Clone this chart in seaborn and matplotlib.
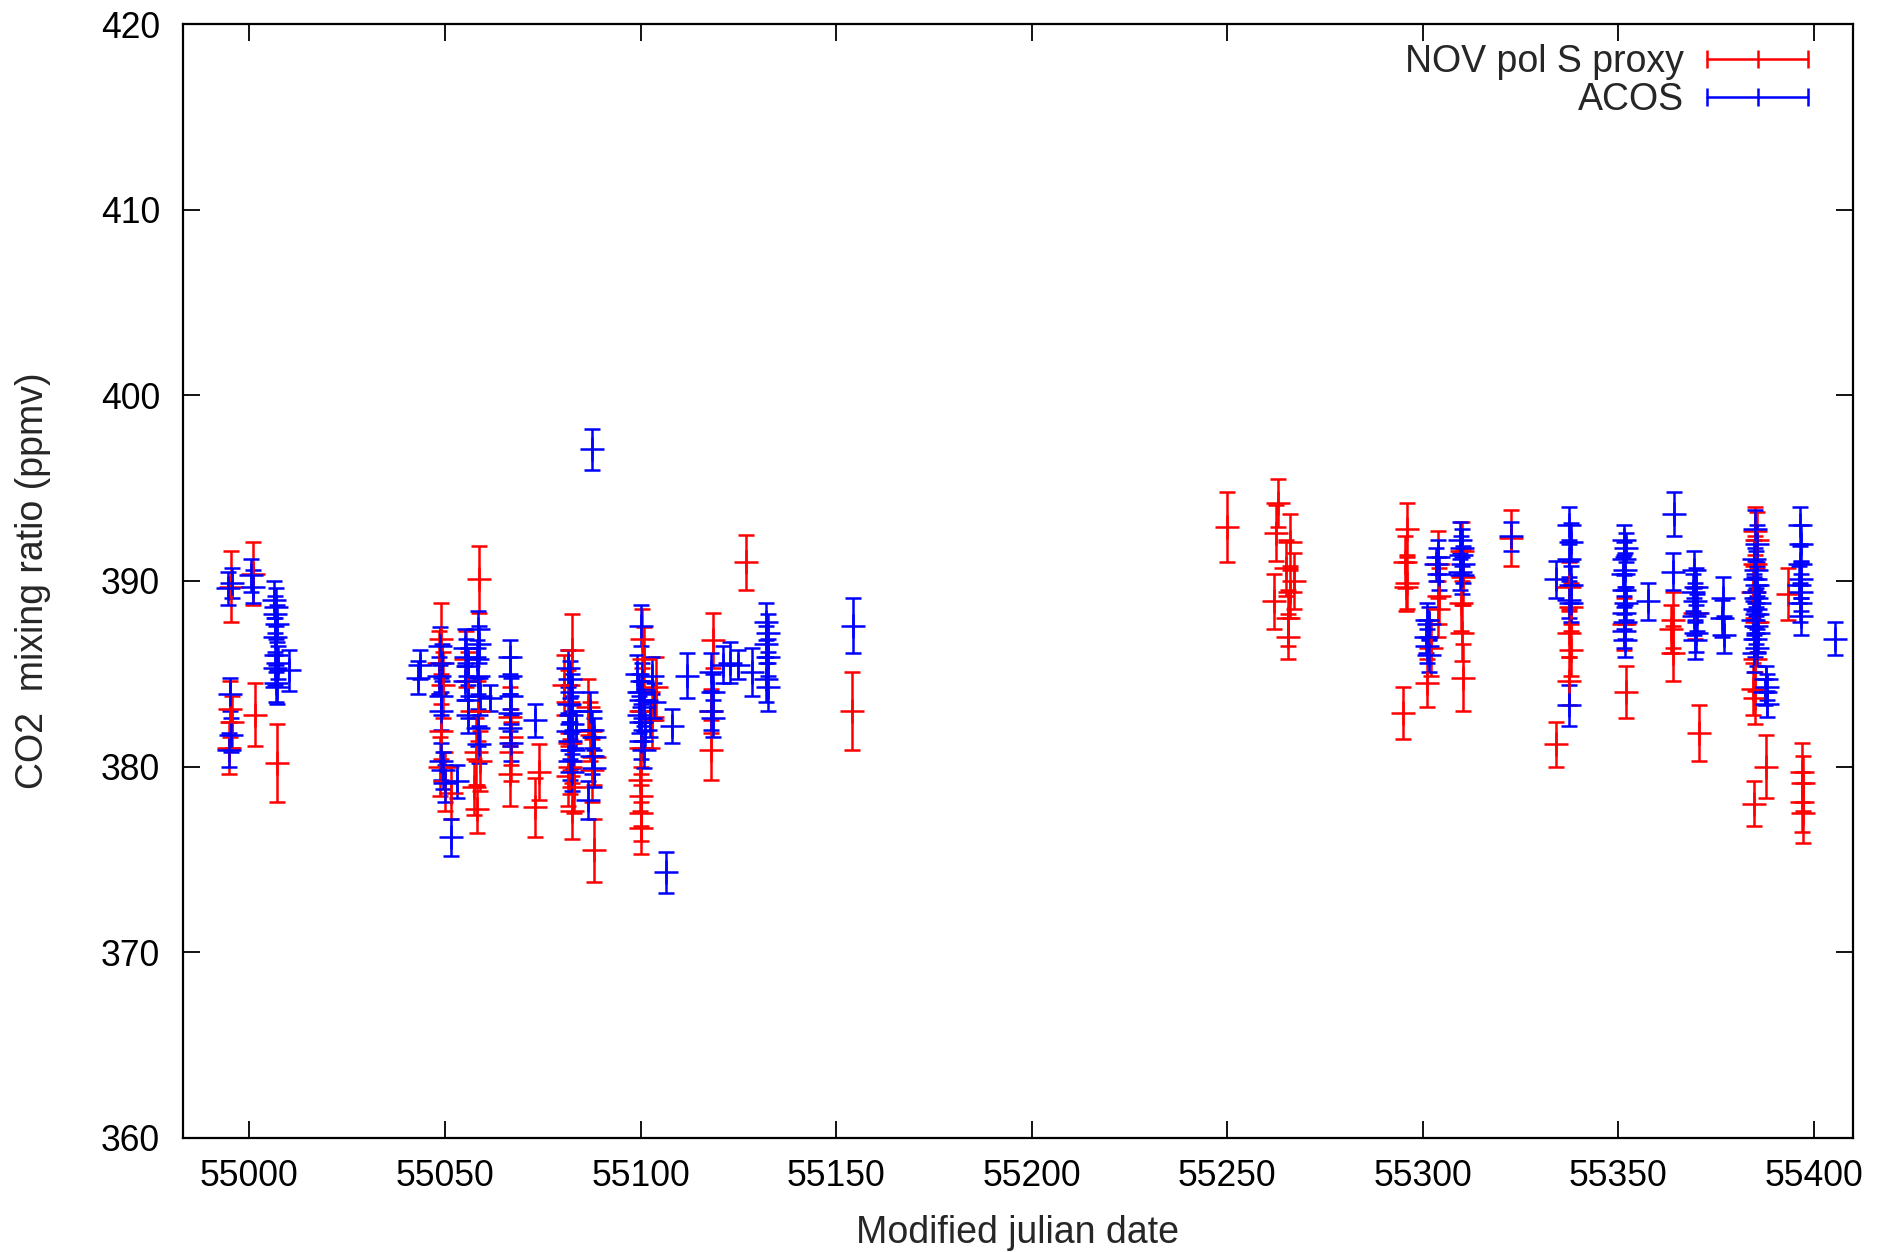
import matplotlib
matplotlib.use("Agg")
import matplotlib.pyplot as plt
from matplotlib.lines import Line2D
import seaborn as sns

# NOV pol S proxy (red)
nov_mjd = [54995.3, 54995.0, 54995.5, 54994.8, 55001.0, 55001.5, 55007.0,
           55049.0, 55048.5, 55049.5, 55049.0, 55048.8, 55050.0, 55051.5,
           55055.5, 55056.0, 55058.8, 55058.5, 55058.0, 55057.5, 55058.2, 55059.0,
           55066.5, 55066.8, 55067.0, 55066.5, 55074.0, 55073.0,
           55080.5, 55082.5, 55081.5, 55082.0, 55082.0, 55081.5, 55082.5, 55083.0,
           55086.5, 55087.0, 55088.0, 55087.5, 55088.0,
           55100.5, 55101.0, 55100.0, 55100.0, 55099.8, 55100.0, 55100.2, 55100.0,
           55104.0, 55103.0,
           55118.5, 55118.0, 55118.0, 55127.0, 55154.0,
           55250.0, 55263.0, 55262.5, 55262.0, 55266.0, 55265.0, 55266.0, 55265.5,
           55265.5, 55267.0,
           55296.0, 55295.5, 55296.0, 55295.8, 55295.0,
           55301.0, 55304.0, 55304.2, 55303.8, 55302.0,
           55310.0, 55310.2, 55309.8, 55310.0, 55310.2,
           55322.5, 55334.0,
           55337.5, 55338.0, 55337.5, 55338.0, 55337.5,
           55351.5, 55352.0, 55364.0, 55363.5, 55364.0, 55369.5, 55370.5,
           55385.0, 55385.5, 55385.0, 55384.5, 55385.5, 55385.0, 55384.5, 55385.0,
           55384.8, 55387.8, 55393.5,
           55397.0, 55397.2, 55397.0, 55397.3]
nov_co2 = [389.7, 383.1, 382.4, 381.0, 390.4, 382.8, 380.2,
           386.9, 385.6, 384.4, 381.9, 380.0, 379.2, 378.6,
           385.8, 384.6, 390.1, 383.0, 380.8, 378.9, 377.7, 380.3,
           382.7, 381.6, 380.8, 379.6, 379.7, 377.8,
           384.4, 386.3, 383.5, 381.3, 380.0, 379.5, 377.6, 378.9,
           383.2, 381.9, 380.5, 379.8, 375.5,
           386.9, 385.8, 383.0, 381.0, 379.3, 378.4, 377.5, 376.7,
           384.3, 382.5,
           386.8, 383.0, 380.9, 391.0, 383.0,
           392.9, 394.2, 392.6, 388.9, 392.1, 390.7, 389.4, 388.0,
           387.0, 390.0,
           392.8, 391.0, 389.9, 389.7, 382.9,
           384.5, 390.9, 389.2, 388.5, 386.4,
           391.6, 390.2, 388.8, 387.2, 384.8,
           392.3, 381.2,
           389.7, 388.6, 387.2, 386.3, 384.6,
           387.7, 384.0, 387.9, 387.4, 386.1, 388.3, 381.8,
           392.7, 392.2, 390.9, 389.4, 387.8, 385.8, 384.2, 383.7,
           378.0, 380.0, 389.3,
           379.7, 379.1, 378.1, 377.5]
nov_err = [1.9, 1.5, 1.4, 1.4, 1.7, 1.7, 2.1,
           1.9, 1.7, 1.8, 1.5, 1.6, 1.6, 1.4,
           1.5, 1.6, 1.8, 1.6, 1.8, 1.5, 1.3, 1.6,
           1.6, 1.5, 1.6, 1.7, 1.5, 1.6,
           1.6, 1.9, 1.7, 1.5, 1.5, 1.6, 1.5, 1.4,
           1.5, 1.6, 1.5, 1.7, 1.7,
           1.6, 1.7, 1.6, 1.4, 1.7, 1.6, 1.5, 1.4,
           1.6, 1.5,
           1.5, 1.2, 1.6, 1.5, 2.1,
           1.9, 1.3, 1.5, 1.5, 1.5, 1.5, 1.4, 1.5,
           1.2, 1.5,
           1.4, 1.4, 1.4, 1.3, 1.4,
           1.3, 1.8, 1.5, 1.5, 1.5,
           1.6, 1.5, 1.5, 1.5, 1.8,
           1.5, 1.2,
           1.3, 1.3, 1.3, 1.4, 1.3,
           1.4, 1.4, 1.5, 1.3, 1.5, 1.4, 1.5,
           1.3, 1.5, 1.5, 1.4, 1.6, 1.7, 1.4, 1.4,
           1.2, 1.7, 1.4,
           1.6, 1.5, 1.6, 1.6]

# ACOS (blue)
acos_mjd = [54994.5, 54995.5, 54995.0, 54995.2, 54994.7, 55000.5, 55001.0,
            55006.3, 55006.8, 55006.5, 55007.0, 55006.5, 55006.8, 55007.2, 55006.5,
            55006.8, 55007.0, 55010.0,
            55043.7, 55043.2,
            55048.8, 55049.2, 55048.5, 55049.0, 55049.0, 55049.0, 55049.5, 55050.0,
            55051.5, 55053.0,
            55055.0, 55055.5, 55056.0, 55055.2, 55055.8, 55056.0,
            55058.5, 55058.8, 55058.2, 55058.5, 55059.0, 55058.5, 55058.8,
            55061.6,
            55066.7, 55066.5, 55067.0, 55066.7, 55066.5, 55067.0, 55073.1,
            55081.5, 55082.0, 55082.5, 55081.8, 55082.2, 55082.5, 55081.5, 55082.0,
            55082.8, 55082.0, 55082.5, 55083.5,
            55087.5, 55087.0, 55087.5, 55088.0, 55087.5, 55088.0, 55086.5,
            55100.0, 55099.0, 55100.5, 55099.5, 55100.0, 55101.0, 55099.5, 55100.2,
            55101.2, 55100.0, 55100.8, 55103.0, 55103.5, 55102.5,
            55106.5, 55108.0, 55112.0,
            55118.0, 55118.5, 55118.0, 55118.5, 55121.0, 55123.0, 55125.0, 55128.5,
            55132.0, 55132.5, 55132.0, 55132.5, 55132.0, 55132.5, 55154.3,
            55301.0, 55301.5, 55300.8, 55301.2, 55301.5,
            55304.0, 55303.5, 55304.2,
            55309.5, 55310.0, 55309.8, 55310.2, 55309.5, 55310.0,
            55322.5, 55334.0,
            55337.5, 55338.0, 55337.5, 55337.8, 55337.5, 55338.0, 55337.5,
            55351.5, 55352.0, 55351.5, 55351.8, 55351.2, 55351.5, 55352.0, 55351.5,
            55351.8, 55351.5, 55351.8,
            55357.5, 55364.3, 55364.0,
            55369.4, 55369.8, 55369.2, 55369.5, 55370.0, 55369.4, 55369.8, 55369.5,
            55376.7, 55376.5, 55377.0,
            55385.0, 55385.5, 55384.8, 55385.2, 55385.0, 55385.5, 55384.8, 55385.2,
            55386.0, 55385.0, 55385.5, 55384.5, 55385.3, 55385.8, 55385.0, 55385.4,
            55384.8,
            55387.8, 55388.0, 55387.5, 55388.0,
            55396.4, 55396.6, 55396.4, 55396.8, 55396.3, 55396.6, 55396.4, 55396.7,
            55405.5]
acos_co2 = [389.6, 389.9, 383.9, 381.7, 380.9, 390.3, 389.7,
            389.0, 388.6, 388.2, 387.7, 387.0, 386.0, 385.6, 385.3,
            384.5, 384.3, 385.2,
            385.5, 384.8,
            386.5, 385.6, 384.9, 383.8, 383.0, 380.3, 379.8, 379.1,
            376.2, 379.2,
            386.4, 385.9, 385.4, 384.6, 383.6, 382.8,
            387.4, 386.6, 385.8, 384.9, 383.8, 382.1, 381.2,
            383.7,
            385.9, 384.9, 383.8, 382.9, 382.1, 381.3, 382.5,
            385.3, 384.7, 384.0, 383.4, 382.8, 382.3, 381.9, 381.4,
            380.9, 380.3, 379.7, 382.0,
            397.1, 383.0, 382.0, 381.6, 380.6, 379.9, 378.2,
            387.6, 385.0, 384.6, 384.0, 383.6, 383.2, 382.8, 382.4,
            382.0, 381.4, 380.9, 384.9, 383.5, 382.6,
            374.3, 382.2, 384.9,
            385.1, 384.0, 383.0, 382.6, 385.5, 385.6, 385.5, 385.1,
            387.8, 387.2, 386.6, 385.9, 384.7, 384.3, 387.6,
            387.9, 387.7, 387.0, 386.5, 386.0,
            391.3, 390.9, 390.4,
            392.2, 391.8, 391.4, 390.9, 390.5, 390.3,
            392.4, 390.1,
            393.0, 392.1, 391.2, 389.8, 389.0, 388.8, 383.3,
            392.2, 391.8, 391.2, 390.6, 390.4, 389.5, 388.8, 388.3,
            387.8, 387.3, 386.8,
            388.9, 393.6, 390.5,
            390.6, 389.7, 389.4, 388.9, 388.3, 388.1, 387.2, 386.8,
            389.1, 388.0, 387.1,
            392.8, 392.0, 391.2, 390.6, 390.1, 389.8, 389.4, 389.1,
            388.8, 388.5, 388.2, 387.9, 387.6, 387.2, 386.9, 386.4,
            386.1,
            384.7, 384.3, 384.0, 383.4,
            393.0, 392.0, 390.9, 390.1, 389.8, 389.4, 388.8, 388.1,
            386.9]
acos_err = [0.9, 0.8, 0.9, 0.9, 0.9, 0.9, 0.9,
            1.0, 1.0, 1.0, 1.0, 1.0, 0.9, 0.9, 0.9,
            1.0, 0.9, 1.1,
            0.8, 0.9,
            1.0, 1.0, 1.0, 1.0, 1.0, 1.0, 1.0, 1.0,
            1.0, 0.9,
            1.0, 1.0, 1.0, 1.0, 1.0, 1.0,
            1.0, 1.0, 1.0, 1.0, 1.0, 1.0, 1.0,
            0.7,
            0.9, 1.0, 1.0, 1.0, 1.0, 1.0, 0.9,
            1.0, 1.0, 1.0, 1.0, 1.0, 1.0, 1.0, 1.0,
            1.0, 1.0, 1.0, 1.0,
            1.1, 1.0, 1.0, 1.0, 1.0, 1.0, 1.0,
            1.1, 1.0, 1.0, 1.0, 1.0, 1.0, 1.0, 1.0,
            1.0, 1.0, 1.0, 1.0, 1.0, 1.0,
            1.1, 0.9, 1.2,
            1.0, 1.0, 1.0, 1.0, 1.0, 1.1, 0.8, 1.3,
            1.0, 1.0, 1.0, 1.0, 1.2, 1.3, 1.5,
            0.9, 0.9, 0.9, 0.9, 0.9,
            0.9, 0.9, 0.9,
            1.0, 1.0, 1.0, 1.0, 1.0, 1.0,
            0.8, 1.0,
            1.0, 1.0, 1.0, 1.0, 1.0, 1.0, 1.1,
            0.8, 0.8, 0.9, 0.9, 0.9, 0.9, 0.9, 0.9,
            0.9, 0.9, 0.9,
            1.0, 1.2, 1.0,
            1.0, 1.0, 1.0, 1.0, 1.0, 1.0, 1.0, 1.0,
            1.1, 1.0, 1.0,
            1.0, 1.0, 1.0, 1.0, 1.0, 1.0, 1.0, 1.0,
            1.0, 1.0, 1.0, 1.0, 1.0, 1.0, 1.0, 1.0,
            1.0,
            0.7, 0.7, 0.7, 0.7,
            1.0, 1.0, 1.0, 1.0, 1.0, 1.0, 1.0, 1.0,
            0.9]

sns.set_style("ticks")
plt.rcParams["font.family"] = ["Liberation Sans", "DejaVu Sans"]
plt.rcParams["font.size"] = 26

fig, ax = plt.subplots(figsize=(18.78, 12.52), dpi=100)
fig.subplots_adjust(left=0.0974, right=0.9867, top=0.9808, bottom=0.0911)

style = dict(fmt="+", markersize=17, markeredgewidth=1.8, elinewidth=1.8,
             capsize=5.8, capthick=1.8)
ax.errorbar(nov_mjd, nov_co2, yerr=nov_err, color="#ff0000", **style)
ax.errorbar(acos_mjd, acos_co2, yerr=acos_err, color="#0000ff", **style)

ax.set_xlim(54983, 55410)
ax.set_ylim(360, 420)
ax.set_xticks(range(55000, 55401, 50))
ax.set_yticks(range(360, 421, 10))
ax.tick_params(direction="in", length=12, width=1.3, top=True, right=True,
               labelsize=25.6, colors="black")
ax.tick_params(axis="y", pad=16.5)
ax.tick_params(axis="x", pad=15.5)
for s in ax.spines.values():
    s.set_linewidth(1.6)
    s.set_color("black")

ax.set_xlabel("Modified julian date", fontsize=27, labelpad=15)
ax.set_ylabel("CO2  mixing ratio (ppmv)", fontsize=27, labelpad=36)

handles = [Line2D([], [], color="#ff0000", marker="|", markersize=13, lw=1.8, mew=1.8),
           Line2D([], [], color="#0000ff", marker="|", markersize=13, lw=1.8, mew=1.8)]
ax.legend(handles, ["NOV pol S proxy", "ACOS"], loc="upper right",
          bbox_to_anchor=(0.98, 0.982), frameon=False, markerfirst=False,
          numpoints=3, handlelength=3.3, handletextpad=0.32,
          labelspacing=0.05, borderpad=0, borderaxespad=0, fontsize=27)

fig.savefig("out.png", dpi=100)
